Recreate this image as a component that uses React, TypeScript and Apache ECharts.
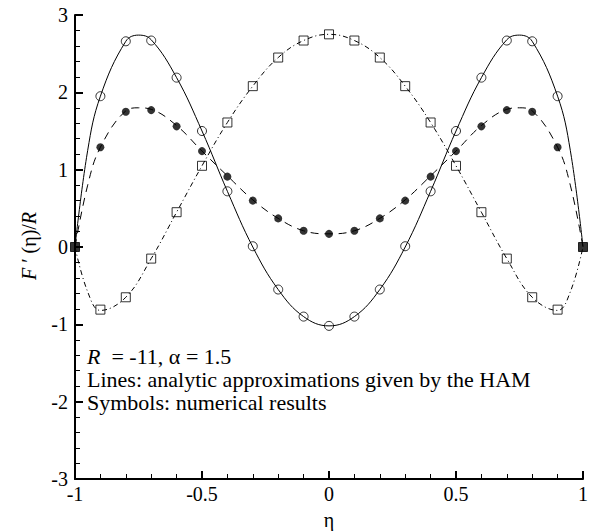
import React, { useEffect, useRef } from "react";
import * as echarts from "echarts";

// Analytic (HAM) curves
const etaSolid = [-1, -0.95, -0.9, -0.8, -0.75, -0.7, -0.6, -0.5, -0.4, -0.3, -0.2, -0.1, 0, 0.1, 0.2, 0.3, 0.4, 0.5, 0.6, 0.7, 0.75, 0.8, 0.9, 0.95, 1];
const lineSolid = [0, 1.25, 1.95, 2.66, 2.74, 2.68, 2.19, 1.5, 0.72, 0.0, -0.55, -0.9, -1.02, -0.9, -0.55, 0.0, 0.72, 1.5, 2.19, 2.68, 2.74, 2.66, 1.95, 1.25, 0];
const etaDashed = [-1, -0.95, -0.9, -0.8, -0.75, -0.7, -0.6, -0.5, -0.4, -0.3, -0.2, -0.1, 0, 0.1, 0.2, 0.3, 0.4, 0.5, 0.6, 0.7, 0.75, 0.8, 0.9, 0.95, 1];
const lineDashed = [0, 0.8, 1.29, 1.76, 1.8, 1.78, 1.57, 1.24, 0.92, 0.61, 0.37, 0.21, 0.17, 0.21, 0.37, 0.61, 0.92, 1.24, 1.57, 1.78, 1.8, 1.76, 1.29, 0.8, 0];
const etaDashDot = [-1, -0.95, -0.9, -0.8, -0.7, -0.6, -0.5, -0.4, -0.3, -0.2, -0.1, 0, 0.1, 0.2, 0.3, 0.4, 0.5, 0.6, 0.7, 0.8, 0.9, 0.95, 1];
const lineDashDot = [0, -0.58, -0.82, -0.65, -0.15, 0.45, 1.05, 1.61, 2.08, 2.45, 2.67, 2.75, 2.67, 2.45, 2.08, 1.61, 1.05, 0.45, -0.15, -0.65, -0.82, -0.58, 0];

// Numerical results (symbols)
const etaSym = [-0.9, -0.8, -0.7, -0.6, -0.5, -0.4, -0.3, -0.2, -0.1, 0, 0.1, 0.2, 0.3, 0.4, 0.5, 0.6, 0.7, 0.8, 0.9];
const symCircle = [1.95, 2.66, 2.67, 2.19, 1.5, 0.72, 0.01, -0.55, -0.9, -1.02, -0.9, -0.55, 0.01, 0.72, 1.5, 2.19, 2.67, 2.66, 1.95];
const symFilled = [1.29, 1.75, 1.77, 1.56, 1.24, 0.91, 0.6, 0.37, 0.21, 0.17, 0.21, 0.37, 0.6, 0.91, 1.24, 1.56, 1.77, 1.75, 1.29];
const symSquare = [-0.81, -0.65, -0.15, 0.45, 1.05, 1.61, 2.08, 2.45, 2.67, 2.75, 2.67, 2.45, 2.08, 1.61, 1.05, 0.45, -0.15, -0.65, -0.81];
const etaEnds = [-1, 1];
const endValues = [0, 0];

const annotation = [
  "{i|R}  = -11, α = 1.5",
  "Lines: analytic approximations given by the HAM",
  "Symbols: numerical results",
];

const FONT = "Liberation Serif, DejaVu Serif, serif";

function pairs(xs: number[], ys: number[]) {
  return xs.map((x, i) => [x, ys[i]]);
}

export default function App() {
  const ref = useRef<HTMLDivElement>(null);
  useEffect(() => {
    if (!ref.current) return;
    const chart = echarts.init(ref.current, undefined, { renderer: "svg" });
    const axisCommon = {
      axisLine: { show: true, onZero: false, lineStyle: { color: "#000", width: 2 } },
      axisTick: { show: true, inside: true, length: 8, lineStyle: { color: "#000", width: 2 } },
      minorTick: { show: true, splitNumber: 5, length: 5, lineStyle: { color: "#000", width: 1 } },
      splitLine: { show: false },
      minorSplitLine: { show: false },
    };
    const lineBase = { type: "line", showSymbol: false, symbol: "none", smooth: 0.4, z: 2, silent: true };
    const symBase = { type: "scatter", symbolSize: 9, z: 3, silent: true };
    chart.setOption({
      animation: false,
      backgroundColor: "#fff",
      grid: { left: 75, right: 17, top: 15, bottom: 52 },
      xAxis: {
        type: "value",
        min: -1,
        max: 1,
        interval: 0.5,
        ...axisCommon,
        axisLabel: { color: "#000", fontFamily: FONT, fontSize: 20, margin: 5, showMinLabel: true, showMaxLabel: true },
      },
      yAxis: {
        type: "value",
        min: -3,
        max: 3,
        interval: 1,
        ...axisCommon,
        axisLabel: { color: "#000", fontFamily: FONT, fontSize: 20, margin: 7, showMinLabel: true, showMaxLabel: true },
      },
      series: [
        { ...lineBase, data: pairs(etaSolid, lineSolid), lineStyle: { color: "#000", width: 1, type: "solid" } },
        { ...lineBase, data: pairs(etaDashed, lineDashed), lineStyle: { color: "#000", width: 1, type: [8, 6] } },
        { ...lineBase, data: pairs(etaDashDot, lineDashDot), lineStyle: { color: "#000", width: 1, type: [5, 3, 1, 3] } },
        { ...symBase, symbol: "circle", data: pairs(etaSym, symCircle), itemStyle: { color: "rgba(0,0,0,0)", borderColor: "#000", borderWidth: 1 } },
        { ...symBase, symbol: "circle", symbolSize: 8, data: pairs(etaSym, symFilled), itemStyle: { color: "#000", borderColor: "#000", borderWidth: 0 } },
        { ...symBase, symbol: "rect", data: pairs(etaSym, symSquare), itemStyle: { color: "rgba(0,0,0,0)", borderColor: "#000", borderWidth: 1 } },
        { ...symBase, symbol: "rect", symbolSize: 9, data: pairs(etaEnds, endValues), itemStyle: { color: "#000", borderColor: "#000", borderWidth: 1 } },
      ],
      graphic: [
        {
          type: "text",
          x: 29,
          y: 246,
          rotation: Math.PI / 2,
          style: {
            text: "{i|F} ′ (η)/{i|R}",
            fontFamily: FONT,
            fontSize: 20,
            fill: "#000",
            align: "center",
            verticalAlign: "middle",
            rich: { i: { fontStyle: "italic", fontFamily: FONT, fontSize: 20, fill: "#000" } },
          },
        },
        {
          type: "text",
          x: 329,
          y: 520,
          style: { text: "η", fontFamily: FONT, fontSize: 20, fill: "#000", align: "center", verticalAlign: "middle" },
        },
        ...annotation.map((t, i) => ({
          type: "text",
          x: 87,
          y: 356 + i * 23,
          style: {
            text: t,
            fontFamily: FONT,
            fontSize: 22,
            fill: "#000",
            align: "left",
            verticalAlign: "middle",
            rich: { i: { fontStyle: "italic", fontFamily: FONT, fontSize: 22, fill: "#000" } },
          },
        })),
      ],
    });
    return () => chart.dispose();
  }, []);
  return <div ref={ref} style={{ width: 600, height: 531, position: "absolute", left: 0, top: 0 }} />;
}
